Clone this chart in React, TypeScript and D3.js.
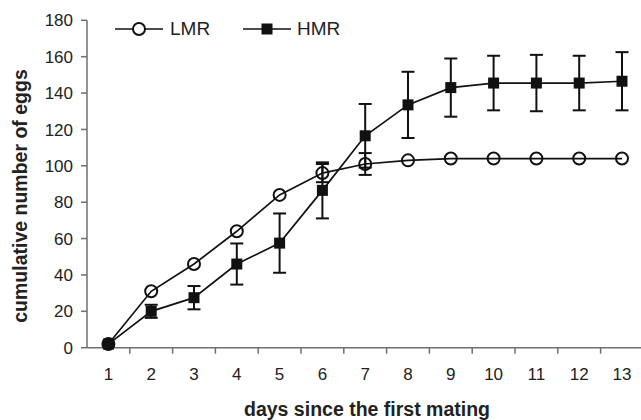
import React from "react";
import * as d3 from "d3";

const days = ["1", "2", "3", "4", "5", "6", "7", "8", "9", "10", "11", "12", "13"];
const lmrValues = [2, 31, 46, 64, 84, 96, 101, 103, 104, 104, 104, 104, 104];
const lmrErrors = [0, 0, 0, 0, 0, 5, 6, 0, 0, 0, 0, 0, 0];
const hmrValues = [2, 20, 27.5, 46, 57.5, 86.5, 116.5, 133.5, 143, 145.5, 145.5, 145.5, 146.5];
const hmrErrors = [0, 3.6, 6.4, 11.3, 16.3, 15.4, 17.5, 18.2, 16, 15, 15.5, 15, 16];
const yTicks = [0, 20, 40, 60, 80, 100, 120, 140, 160, 180];

const W = 641;
const H = 420;
const FONT = "'Liberation Sans', Arial, Helvetica, sans-serif";

export default function App() {
  const x = d3.scaleBand<string>().domain(days).range([87, 87 + 13 * 42.8]).padding(0);
  const y = d3.scaleLinear().domain([0, 180]).range([347.7, 20.3]);
  const cx = (d: string) => (x(d) as number) + x.bandwidth() / 2;

  const line = d3
    .line<number>()
    .x((_, i) => cx(days[i]))
    .y((v) => y(v));

  const axisColor = "#6f6f6f";
  const capW = 6.5;

  const errBars = (vals: number[], errs: number[], key: string) =>
    vals.map((v, i) =>
      errs[i] > 0 ? (
        <g key={key + i} stroke="#111" strokeWidth={2}>
          <line x1={cx(days[i])} x2={cx(days[i])} y1={y(v - errs[i])} y2={y(v + errs[i])} />
          <line x1={cx(days[i]) - capW} x2={cx(days[i]) + capW} y1={y(v + errs[i])} y2={y(v + errs[i])} />
          <line x1={cx(days[i]) - capW} x2={cx(days[i]) + capW} y1={y(v - errs[i])} y2={y(v - errs[i])} />
        </g>
      ) : null
    );

  return (
    <div style={{ position: "fixed", left: 0, top: 0 }}>
      <svg width={W} height={H} style={{ display: "block", background: "#fff" }} fontFamily={FONT}>
        {/* axes */}
        <line x1={87} x2={87} y1={y(180)} y2={y(0)} stroke={axisColor} strokeWidth={1.5} />
        <line x1={87} x2={W} y1={y(0)} y2={y(0)} stroke={axisColor} strokeWidth={1.5} />
        {yTicks.map((t) => (
          <g key={"yt" + t}>
            <line x1={81} x2={87} y1={y(t)} y2={y(t)} stroke={axisColor} strokeWidth={1.5} />
            <text x={73} y={y(t)} dy="0.36em" textAnchor="end" fontSize={17} fill="#222">
              {t}
            </text>
          </g>
        ))}
        {days.map((d, i) => (
          <g key={"xt" + d}>
            {i > 0 && (
              <line
                x1={x(d) as number}
                x2={x(d) as number}
                y1={y(0)}
                y2={y(0) + 6}
                stroke={axisColor}
                strokeWidth={1.5}
              />
            )}
            <text x={cx(d)} y={380} textAnchor="middle" fontSize={17} fill="#222">
              {d}
            </text>
          </g>
        ))}

        {/* titles */}
        <text x={367} y={416} textAnchor="middle" fontSize={19.5} fontWeight="bold" fill="#222">
          days since the first mating
        </text>
        <text
          transform="translate(27,196) rotate(-90)"
          textAnchor="middle"
          fontSize={19.5}
          fontWeight="bold"
          fill="#222"
        >
          cumulative number of eggs
        </text>

        {/* error bars */}
        {errBars(lmrErrors.map((_, i) => lmrValues[i]), lmrErrors, "le")}
        {errBars(hmrValues, hmrErrors, "he")}

        {/* lines */}
        <path d={line(lmrValues) as string} fill="none" stroke="#111" strokeWidth={1.7} />
        <path d={line(hmrValues) as string} fill="none" stroke="#111" strokeWidth={1.7} />

        {/* markers */}
        {lmrValues.map((v, i) => (
          <circle
            key={"lc" + i}
            cx={cx(days[i])}
            cy={y(v)}
            r={6}
            fill={v === hmrValues[i] ? "#111" : "none"}
            stroke="#111"
            strokeWidth={2}
          />
        ))}
        {hmrValues.map((v, i) => (
          <rect key={"hs" + i} x={cx(days[i]) - 5.5} y={y(v) - 5.5} width={11} height={11} fill="#111" />
        ))}

        {/* legend */}
        <line x1={115} x2={163} y1={29} y2={29} stroke="#111" strokeWidth={1.7} />
        <circle cx={139} cy={29} r={6} fill="#fff" stroke="#111" strokeWidth={2} />
        <text x={170} y={35} fontSize={19} fill="#222">
          LMR
        </text>
        <line x1={243} x2={291} y1={29} y2={29} stroke="#111" strokeWidth={1.7} />
        <rect x={267 - 5.5} y={29 - 5.5} width={11} height={11} fill="#111" />
        <text x={297} y={35} fontSize={19} fill="#222">
          HMR
        </text>
      </svg>
    </div>
  );
}
